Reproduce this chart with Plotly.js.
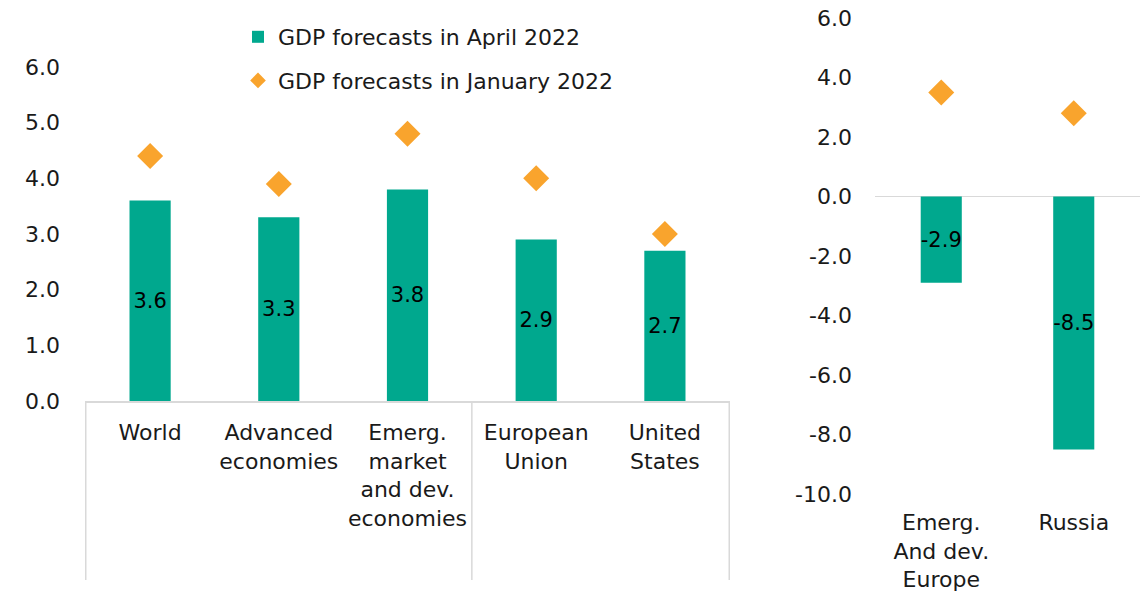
<!DOCTYPE html>
<html>
<head>
<meta charset="utf-8">
<script src="https://cdn.plot.ly/plotly-3.0.1.min.js"></script>
<style>html,body{margin:0;padding:0;background:#fff;}#chart{width:1143px;height:594px;}</style>
</head>
<body>
<div id="chart"></div>
<script>
// ---- data ----
const leftCategories = ["World", "Advanced<br>economies", "Emerg.<br>market<br>and dev.<br>economies", "European<br>Union", "United<br>States"];
const leftApril = [3.6, 3.3, 3.8, 2.9, 2.7];
const leftJanuary = [4.4, 3.9, 4.8, 4.0, 3.0];

const rightCategories = ["Emerg.<br>And dev.<br>Europe", "Russia"];
const rightApril = [-2.9, -8.5];
const rightJanuary = [3.5, 2.8];

const seriesNames = ["GDP forecasts in April 2022", "GDP forecasts in January 2022"];
const leftTicks = [0, 1, 2, 3, 4, 5, 6];
const leftTickLabels = ["0.0", "1.0", "2.0", "3.0", "4.0", "5.0", "6.0"];
const rightTicks = [-10, -8, -6, -4, -2, 0, 2, 4, 6];
const rightTickLabels = ["-10.0", "-8.0", "-6.0", "-4.0", "-2.0", "0.0", "2.0", "4.0", "6.0"];

// ---- style ----
const TEAL = "#00a88e";
const ORANGE = "#f9a42d";
const GRID = "#d9d9d9";
const FONT = "'DejaVu Sans', sans-serif";
const H = 594;
const py = (px) => (H - px) / H;

const barCommon = {
  type: "bar",
  marker: {color: TEAL},
  texttemplate: "%{y:.1f}",
  textposition: "inside",
  insidetextanchor: "middle",
  textangle: 0,
  constraintext: "none",
  textfont: {color: "#000", size: 21, family: FONT},
  hoverinfo: "skip",
  width: 0.32
};
const dotCommon = {
  type: "scatter",
  mode: "markers",
  marker: {symbol: "diamond", color: ORANGE, size: 20},
  hoverinfo: "skip"
};

const traces = [
  Object.assign({}, barCommon, {x: leftCategories, y: leftApril, name: seriesNames[0], xaxis: "x", yaxis: "y", legendgroup: "a"}),
  Object.assign({}, dotCommon, {x: leftCategories, y: leftJanuary, name: seriesNames[1], xaxis: "x", yaxis: "y", legendgroup: "b"}),
  Object.assign({}, barCommon, {x: rightCategories, y: rightApril, name: seriesNames[0], xaxis: "x2", yaxis: "y2", showlegend: false, width: 0.31}),
  Object.assign({}, dotCommon, {x: rightCategories, y: rightJanuary, name: seriesNames[1], xaxis: "x2", yaxis: "y2", showlegend: false})
];

const tickFont = {family: FONT, size: 22, color: "#1a1a1a"};

const layout = {
  width: 1143,
  height: 594,
  margin: {l: 0, r: 0, t: 0, b: 0},
  paper_bgcolor: "#fff",
  plot_bgcolor: "rgba(0,0,0,0)",
  font: {family: FONT, size: 22, color: "#1a1a1a"},
  showlegend: true,
  legend: {
    x: 238 / 1143, xanchor: "left",
    y: py(16), yanchor: "top",
    traceorder: "grouped",
    tracegroupgap: 12,
    itemsizing: "constant",
    font: {family: FONT, size: 22, color: "#1a1a1a"},
    bgcolor: "rgba(0,0,0,0)"
  },
  xaxis: {
    domain: [85 / 1143, 730 / 1143],
    anchor: "y",
    type: "category",
    tickangle: 0,
    showgrid: false,
    showline: true, linecolor: GRID, linewidth: 1.5,
    zeroline: false,
    ticks: "",
    tickfont: tickFont,
    ticklabelstandoff: 11,
    fixedrange: true
  },
  yaxis: {
    domain: [py(401), py(67)],
    anchor: "x",
    range: [0, 6],
    tickvals: leftTicks,
    ticktext: leftTickLabels,
    showgrid: false,
    zeroline: false,
    showline: false,
    ticks: "",
    tickfont: tickFont,
    ticklabelstandoff: 24,
    fixedrange: true
  },
  xaxis2: {
    domain: [875 / 1143, 1140 / 1143],
    anchor: "y2",
    type: "category",
    tickangle: 0,
    showgrid: false,
    showline: false,
    zeroline: false,
    ticks: "",
    tickfont: tickFont,
    ticklabelstandoff: 13,
    fixedrange: true
  },
  yaxis2: {
    domain: [py(494), py(18)],
    anchor: "x2",
    range: [-10, 6],
    tickvals: rightTicks,
    ticktext: rightTickLabels,
    showgrid: false,
    zeroline: true, zerolinecolor: GRID, zerolinewidth: 1.5,
    showline: false,
    ticks: "",
    tickfont: tickFont,
    ticklabelstandoff: 22,
    fixedrange: true
  },
  shapes: [-0.5, 2.5, 4.5].map(function (v) {
    return {type: "line", xref: "x", yref: "paper", x0: v, x1: v, y0: py(580), y1: py(401),
            line: {color: GRID, width: 1.5}, layer: "below"};
  })
};

Plotly.newPlot("chart", traces, layout, {displayModeBar: false, staticPlot: true});
</script>
</body>
</html>
